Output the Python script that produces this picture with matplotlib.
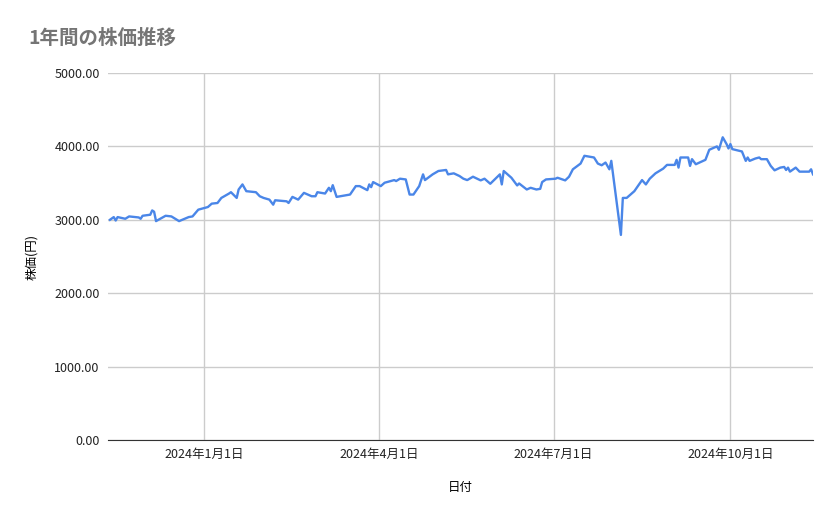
import datetime as dt
import matplotlib
matplotlib.use('Agg')
import matplotlib.pyplot as plt
from matplotlib.ticker import FuncFormatter

plt.rcParams['font.family'] = ['Noto Sans CJK JP', 'DejaVu Sans']

base = dt.date(2024, 1, 1)
# day offsets from 2024-01-01 and price
days = [-49, -47, -46, -45, -41, -39, -34, -33, -32, -28, -27, -26, -25, -20, -17, -13,
        -8, -6, -3, 2, 4, 7, 9, 13, 14, 17, 18, 20, 22, 27, 29, 31, 34, 36, 37, 43, 44,
        46, 49, 52, 56, 58, 59, 63, 65, 66, 67, 69, 76, 79, 81, 85, 86, 87, 88, 92, 94,
        99, 100, 102, 105, 107, 109, 112, 114, 115, 119, 122, 126, 127, 130, 133,
        135, 137, 140, 144, 146, 149, 154, 155, 156, 160, 163, 164, 168, 170, 173, 175,
        176, 178, 183, 184, 188, 190, 192, 196, 198, 203, 205, 207, 209, 211, 212, 217,
        218, 220, 224, 228, 230, 232, 235, 239, 241, 245, 246, 247, 248, 252, 253, 254,
        256, 261, 263, 267, 268, 270, 272, 273, 274, 275, 280, 282, 283, 284, 287, 289,
        290, 293, 295, 297, 300, 302, 303, 304, 305, 308, 310, 315, 316, 317]
prices = [3000, 3037, 2990, 3037, 3014, 3046, 3032, 3014, 3055, 3069, 3128, 3110, 2982,
          3055, 3046, 2982, 3037, 3046, 3138, 3174, 3220, 3229, 3298, 3358, 3376, 3298,
          3413, 3482, 3390, 3376, 3321, 3298, 3275, 3206, 3266, 3252, 3229, 3312, 3275,
          3367, 3321, 3321, 3376, 3358, 3436, 3390, 3472, 3312, 3344, 3459, 3459, 3404,
          3482, 3445, 3514, 3459, 3505, 3541, 3528, 3560, 3550, 3344, 3344, 3459, 3619,
          3541, 3619, 3665, 3679, 3619, 3633, 3596,
          3560, 3541, 3587, 3537, 3560, 3491, 3619, 3482, 3665, 3573, 3468, 3495, 3413,
          3436, 3413, 3422, 3514, 3550, 3560, 3573, 3537, 3587, 3688, 3766, 3872, 3849,
          3766, 3743, 3780, 3688, 3803, 2794, 3298, 3298, 3390, 3541, 3482, 3560, 3633,
          3697, 3748, 3748, 3817, 3711, 3849, 3849, 3734, 3826, 3757, 3817, 3954, 4000,
          3954, 4124, 4032, 3972, 4032, 3963, 3931, 3803, 3849, 3803, 3835, 3849, 3826,
          3826, 3734, 3674, 3711, 3720, 3679, 3711, 3656, 3711, 3656, 3656, 3688, 3619]
dates = [base + dt.timedelta(days=d) for d in days]
tick_dates = [dt.date(2024, 1, 1), dt.date(2024, 4, 1), dt.date(2024, 7, 1), dt.date(2024, 10, 1)]

fig = plt.figure(figsize=(8.39, 5.19), dpi=100)
ax = fig.add_axes([108 / 839, 1 - 440 / 519, 705 / 839, 367 / 519])

ax.plot(dates, prices, color='#4a86e8', linewidth=1.7)

ax.set_xlim(base + dt.timedelta(days=-50), base + dt.timedelta(days=317))
ax.set_ylim(0, 5000)
ax.set_yticks([0, 1000, 2000, 3000, 4000, 5000])
ax.yaxis.set_major_formatter(FuncFormatter(lambda v, p: f'{v:.2f}'))
ax.set_xticks(tick_dates)
ax.set_xticklabels([f'{d.year}年{d.month}月{d.day}日' for d in tick_dates])

ax.grid(True, color='#cccccc', linewidth=1)
ax.set_axisbelow(True)
for s in ['top', 'right', 'left']:
    ax.spines[s].set_visible(False)
ax.spines['bottom'].set_color('#333333')
ax.tick_params(length=0, labelsize=9, colors='#222222', pad=6)

ax.set_xlabel('日付', fontsize=9, labelpad=14)
ax.set_ylabel('株価(円)', fontsize=9, labelpad=12)
fig.text(28 / 839, 1 - 38 / 519, '1年間の株価推移', fontsize=14, color='#757575',
         fontweight='bold', va='center')

fig.savefig('out.png', dpi=100)
